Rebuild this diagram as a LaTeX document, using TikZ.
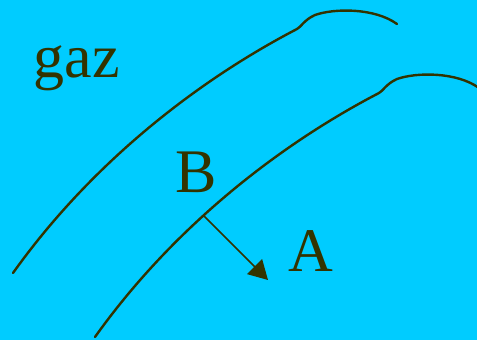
\documentclass[tikz,border=0pt]{standalone}
\usepackage{fontspec}
\setmainfont{Liberation Serif}
\usetikzlibrary{arrows.meta}
\definecolor{bg}{HTML}{00CCFF}
\definecolor{ink}{HTML}{333300}
\tikzset{
  wave/.style={draw=ink, line width=2.4pt, line cap=round, line join=round},
  lbl/.style={text=ink, font=\fontsize{62}{62}\selectfont, inner sep=0pt, anchor=base},
  flow/.style={draw=ink, line width=1.5pt, -{Triangle[length=19pt,width=21pt]}}
}
\begin{document}
\begin{tikzpicture}[x=1pt,y=-1pt]
\fill[bg] (0,0) rectangle (477,340);
\useasboundingbox (0,0) rectangle (477,340);
\begin{scope}
\clip (0,0) rectangle (477,340);
\foreach \dx/\dy in {0/0,82/64}{
  \draw[wave, shift={(\dx,\dy)}] (13,273) .. controls (90,165) and (195,82) .. (297,29)
    .. controls (301,27) and (304,20) .. (315,15)
    .. controls (335,8) and (375,8) .. (397,24);
}
\end{scope}
\node[lbl] (gaz) at (76.5,77) {gaz};
\node[lbl] (B) at (196,192) {B};
\node[lbl] (A) at (310.5,271) {A};
\coordinate (start) at (204,216);
\coordinate (tip) at (268,280);
\draw[flow] (start) -- (tip);
\end{tikzpicture}
\end{document}
